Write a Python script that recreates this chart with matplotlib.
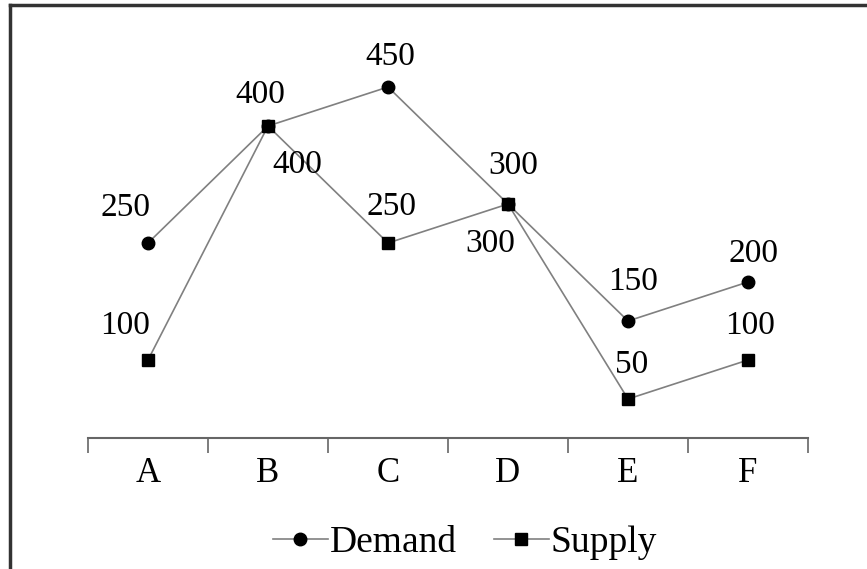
import matplotlib
matplotlib.use("Agg")
import matplotlib.pyplot as plt
from matplotlib.lines import Line2D

categories = ['A', 'B', 'C', 'D', 'E', 'F']
demand = [250, 400, 450, 300, 150, 200]
supply = [100, 400, 250, 300, 50, 100]

# label offsets in pixels (dx, dy)
demand_offsets = [(-23, 35), (-8, 31), (2, 30), (5, 38), (5, 39), (5, 28)]
supply_offsets = [(-23, 34), (29, -39), (4, 36), (-18, -40), (4, 34), (2, 34)]

plt.rcParams['font.family'] = ['Liberation Serif', 'DejaVu Serif']

fig = plt.figure(figsize=(8.67, 5.69), dpi=100)
ax = fig.add_axes([88 / 867, 1 - 438 / 569, 720 / 867, 390 / 569])

x = list(range(len(categories)))
ax.plot(x, demand, color='#808080', linewidth=1.2, marker='o', markersize=9,
        markerfacecolor='black', markeredgecolor='black', label='Demand')
ax.plot(x, supply, color='#808080', linewidth=1.2, marker='s', markersize=9,
        markerfacecolor='black', markeredgecolor='black', label='Supply')

for i in x:
    ax.annotate(str(demand[i]), (i, demand[i]), xytext=demand_offsets[i],
                textcoords='offset pixels', ha='center', va='center', fontsize=24)
    ax.annotate(str(supply[i]), (i, supply[i]), xytext=supply_offsets[i],
                textcoords='offset pixels', ha='center', va='center', fontsize=24)

ax.set_xlim(-0.5, len(categories) - 0.5)
ax.set_ylim(0, 500)
ax.set_yticks([])
for s in ['top', 'right', 'left']:
    ax.spines[s].set_visible(False)
ax.spines['bottom'].set_color('#666666')
ax.spines['bottom'].set_linewidth(1.5)

ax.set_xticks([i - 0.5 for i in range(len(categories) + 1)])
ax.set_xticklabels([])
ax.set_xticks(x, minor=True)
ax.set_xticklabels(categories, minor=True, fontsize=25)
ax.tick_params(axis='x', which='major', length=11, width=1.2, color='#666666')
ax.tick_params(axis='x', which='minor', length=0, pad=14)

fig.legend(loc='center', bbox_to_anchor=(465 / 867, 1 - 543 / 569), ncol=2,
           frameon=False, fontsize=27, handlelength=1.45, handletextpad=0.05,
           columnspacing=1.0, borderaxespad=0)

# frame around the picture (left and top edges visible)
fig.add_artist(Line2D([10 / 867, 10 / 867], [0, 1 - 5 / 569], color='#333333', linewidth=2.5))
fig.add_artist(Line2D([10 / 867, 1], [1 - 5 / 569, 1 - 5 / 569], color='#333333', linewidth=2.5))

fig.savefig('out.png', dpi=100)
